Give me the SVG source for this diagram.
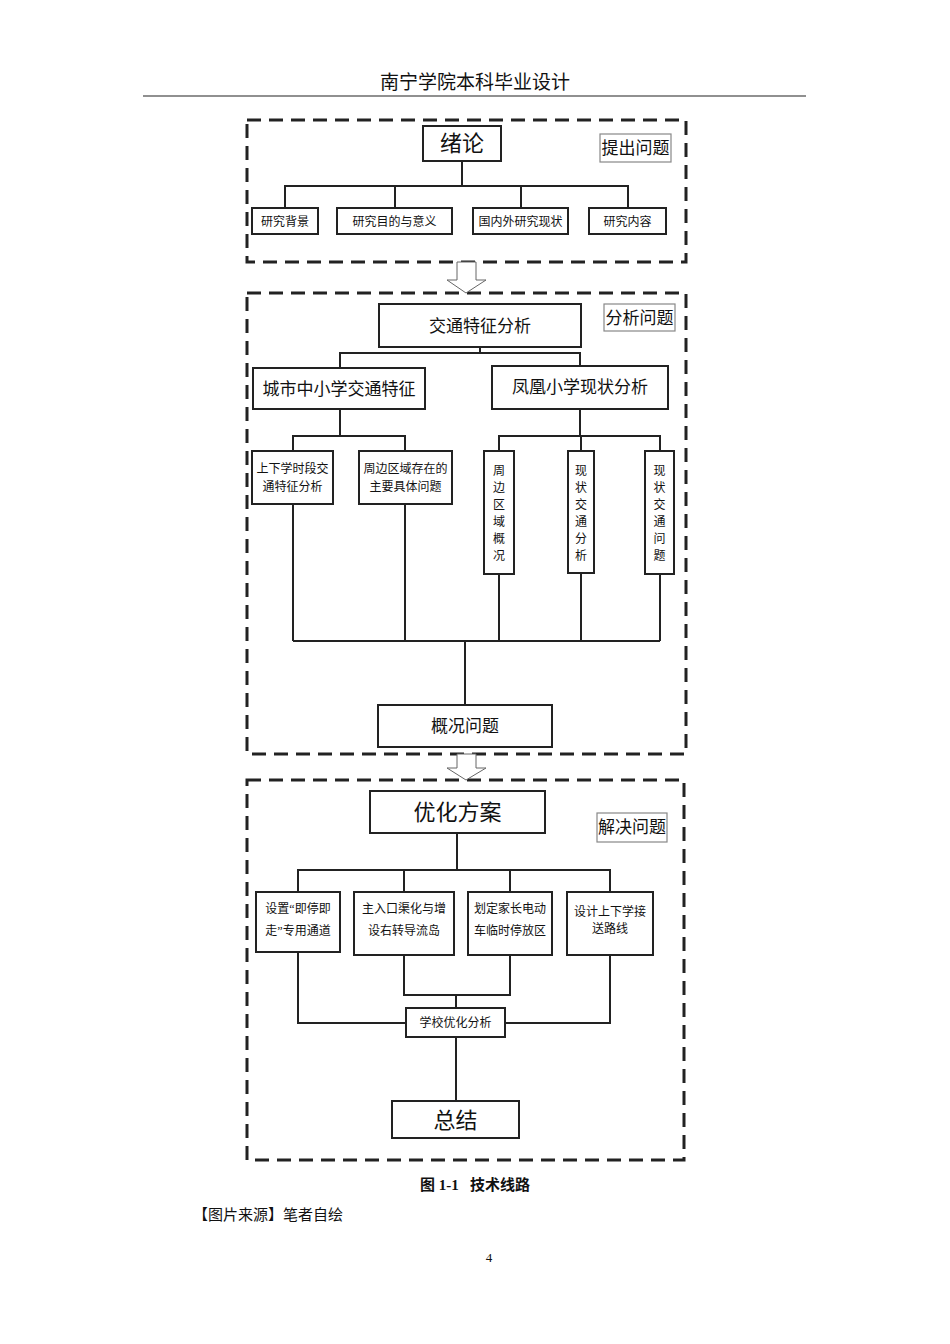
<svg xmlns="http://www.w3.org/2000/svg" width="950" height="1344" viewBox="0 0 950 1344">
<style>
.f{fill:none;stroke:#222;stroke-width:3;stroke-dasharray:14,8}
.b{fill:#fff;stroke:#222;stroke-width:2}
.g{fill:#fff;stroke:#888;stroke-width:1.2}
.c{fill:none;stroke:#222;stroke-width:2}
text{font-family:"Liberation Serif","Noto Sans CJK SC",serif;fill:#111;text-anchor:middle}
.s{font-family:"Noto Sans CJK SC",sans-serif}
.t{font-size:12px}
.m{font-size:17px}
.l{font-size:22px}
</style>
<rect width="950" height="1344" fill="#fff"/>
<text x="475" y="89" style="font-size:19px">南宁学院本科毕业设计</text>
<line x1="143" y1="96" x2="806" y2="96" stroke="#222" stroke-width="1.2"/>
<rect class="f" x="247" y="120" width="439" height="142"/>
<rect class="f" x="247" y="293" width="439" height="461"/>
<rect class="f" x="247" y="780" width="437" height="380"/>
<g id="connectors">
<path class="c" d="M462 161V186M285 208V186H628V208M395 186V208M521 186V208"/>
<path class="c" d="M480 347V353M340 368V353H580V366M340 409V436M293 451V436H405V451M580 409V436M499 451V436H660V451M581 436V451"/>
<path class="c" d="M293 504V641M405 504V641M499 574V641M581 573V641M660 574V641M293 641H660M465 641V705"/>
<path class="c" d="M457 833V870M298 892V870H610V892M404 870V892M510 870V892"/>
<path class="c" d="M298 952V1023H406M404 955V995H510V955M456 995V1008M610 955V1023H505M456 1037V1101"/>
<path d="M457 262H476V280H486L466 293L447 280H457Z" fill="#fff" stroke="#666" stroke-width="1"/>
<path d="M457 754H476V768H486L466 780L447 768H457Z" fill="#fff" stroke="#666" stroke-width="1"/>
</g>
<g id="n1"><rect class="b" x="423" y="126" width="78" height="35"/><text class="l s" x="462" y="151">绪论</text></g>
<g id="n2"><rect class="g" x="600" y="134" width="71" height="28"/><text class="m s" x="635.5" y="154">提出问题</text></g>
<g id="n3"><rect class="b" x="252" y="208" width="66" height="26"/><text class="t" x="285" y="226">研究背景</text></g>
<g id="n4"><rect class="b" x="337" y="208" width="115" height="26"/><text class="t" x="394.5" y="226">研究目的与意义</text></g>
<g id="n5"><rect class="b" x="473" y="208" width="95" height="26"/><text class="t" x="520.5" y="226">国内外研究现状</text></g>
<g id="n6"><rect class="b" x="589" y="208" width="77" height="26"/><text class="t" x="627.5" y="226">研究内容</text></g>
<g id="n7"><rect class="b" x="379" y="304" width="202" height="43"/><text class="m" x="480" y="332">交通特征分析</text></g>
<g id="n8"><rect class="g" x="604" y="304" width="71" height="27"/><text class="m s" x="639.5" y="324">分析问题</text></g>
<g id="n9"><rect class="b" x="253" y="368" width="172" height="41"/><text class="m" x="339" y="395">城市中小学交通特征</text></g>
<g id="n10"><rect class="b" x="492" y="366" width="176" height="43"/><text class="m" x="580" y="393">凤凰小学现状分析</text></g>
<g id="n11"><rect class="b" x="252" y="451" width="81" height="53"/><text class="t" x="292.5" y="473">上下学时段交</text><text class="t" x="292.5" y="491">通特征分析</text></g>
<g id="n12"><rect class="b" x="359" y="451" width="93" height="53"/><text class="t" x="405.5" y="473">周边区域存在的</text><text class="t" x="405.5" y="491">主要具体问题</text></g>
<g id="n13"><rect class="b" x="484" y="451" width="30" height="123"/><text class="t" x="499"><tspan x="499" y="475">周</tspan><tspan x="499" y="492">边</tspan><tspan x="499" y="509">区</tspan><tspan x="499" y="526">域</tspan><tspan x="499" y="543">概</tspan><tspan x="499" y="560">况</tspan></text></g>
<g id="n14"><rect class="b" x="568" y="451" width="26" height="122"/><text class="t" x="581"><tspan x="581" y="475">现</tspan><tspan x="581" y="492">状</tspan><tspan x="581" y="509">交</tspan><tspan x="581" y="526">通</tspan><tspan x="581" y="543">分</tspan><tspan x="581" y="560">析</tspan></text></g>
<g id="n15"><rect class="b" x="645" y="451" width="29" height="123"/><text class="t" x="659.5"><tspan x="659.5" y="475">现</tspan><tspan x="659.5" y="492">状</tspan><tspan x="659.5" y="509">交</tspan><tspan x="659.5" y="526">通</tspan><tspan x="659.5" y="543">问</tspan><tspan x="659.5" y="560">题</tspan></text></g>
<g id="n16"><rect class="b" x="378" y="705" width="174" height="42"/><text class="m" x="465" y="732">概况问题</text></g>
<g id="n17"><rect class="b" x="370" y="791" width="175" height="42"/><text class="l s" x="457.5" y="820">优化方案</text></g>
<g id="n18"><rect class="g" x="597" y="813" width="70" height="29"/><text class="m s" x="632" y="833">解决问题</text></g>
<g id="n19"><rect class="b" x="256" y="892" width="84" height="60"/><text class="t" x="298" y="913">设置“即停即</text><text class="t" x="298" y="935">走”专用通道</text></g>
<g id="n20"><rect class="b" x="354" y="892" width="100" height="63"/><text class="t" x="404" y="913">主入口渠化与增</text><text class="t" x="404" y="935">设右转导流岛</text></g>
<g id="n21"><rect class="b" x="468" y="892" width="84" height="63"/><text class="t" x="510" y="913">划定家长电动</text><text class="t" x="510" y="935">车临时停放区</text></g>
<g id="n22"><rect class="b" x="567" y="892" width="86" height="63"/><text class="t" x="610" y="916">设计上下学接</text><text class="t" x="610" y="933">送路线</text></g>
<g id="n23"><rect class="b" x="406" y="1008" width="99" height="29"/><text class="t" x="455.5" y="1027">学校优化分析</text></g>
<g id="n24"><rect class="b" x="392" y="1101" width="127" height="37"/><text class="l s" x="455.5" y="1128">总结</text></g>
<text x="475" y="1190" style="font-size:15px;font-weight:bold" xml:space="preserve">图 1-1   技术线路</text>
<text x="268" y="1220" style="font-size:15px">【图片来源】笔者自绘</text>
<text x="489" y="1262" style="font-size:13px">4</text>
</svg>
